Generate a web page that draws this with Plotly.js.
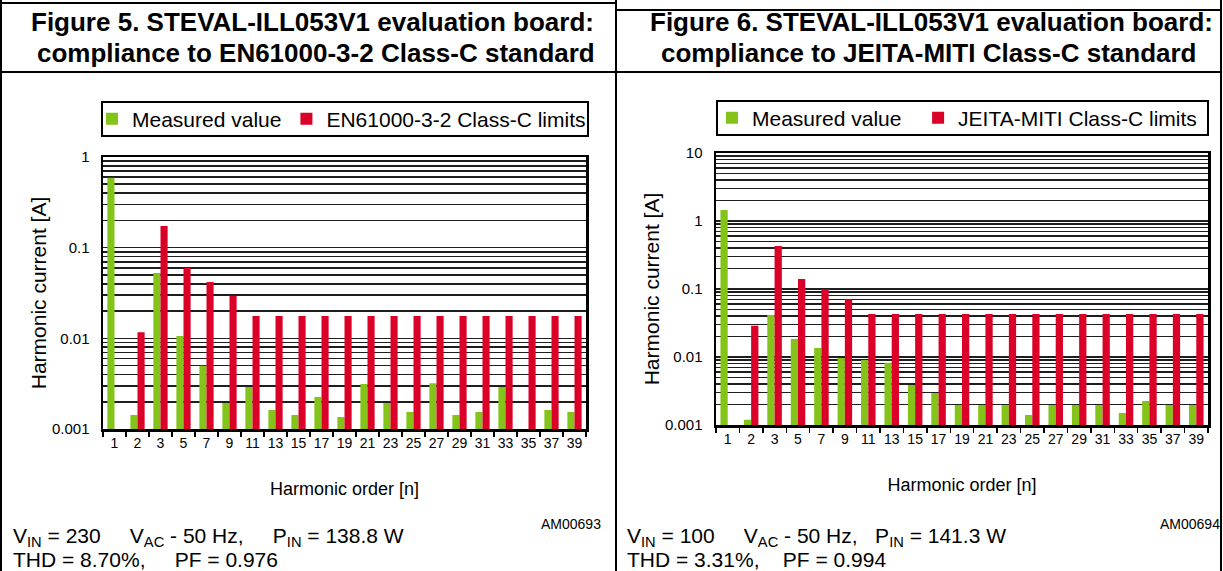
<!DOCTYPE html>
<html>
<head>
<meta charset="utf-8">
<script src="https://cdn.plot.ly/plotly-3.0.1.min.js"></script>
<style>
  html, body { margin: 0; padding: 0; background: #fff; }
  #chart { width: 1223px; height: 571px; }
</style>
</head>
<body>
<div id="chart"></div>
<script>
// ---------------- DATA ----------------
const harmonicOrders = ['1','2','3','5','7','9','11','13','15','17','19','21','23','25','27','29','31','33','35','37','39'];

// Figure 5 – EN61000-3-2 Class-C (V_IN = 230 V)
const enMeasured = [0.59, 0.00143, 0.0525, 0.0106, 0.0050, 0.00194, 0.0029, 0.00162, 0.00143, 0.00225, 0.00136, 0.00313, 0.00194, 0.00154, 0.0032, 0.00143, 0.00154, 0.0029, null, 0.00162, 0.00154];
const enLimits   = [null, 0.0117, 0.173, 0.060, 0.0418, 0.0295, 0.0176, 0.0176, 0.0176, 0.0176, 0.0176, 0.0176, 0.0176, 0.0176, 0.0176, 0.0176, 0.0176, 0.0176, 0.0176, 0.0176, 0.0176];

// Figure 6 – JEITA-MITI Class-C (V_IN = 100 V)
const jeMeasured = [1.45, 0.00119, 0.0415, 0.0184, 0.0136, 0.0097, 0.0090, 0.0082, 0.00387, 0.00295, 0.00197, 0.00197, 0.00197, 0.0014, 0.00197, 0.00197, 0.00197, 0.0015, 0.00225, 0.00197, 0.00197];
const jeLimits   = [null, 0.0287, 0.428, 0.140, 0.099, 0.0706, 0.0428, 0.0428, 0.0428, 0.0428, 0.0428, 0.0428, 0.0428, 0.0428, 0.0428, 0.0428, 0.0428, 0.0428, 0.0428, 0.0428, 0.0428];

const seriesNames = {
  measured: 'Measured value',
  enLimit: 'EN61000-3-2 Class-C limits',
  jeLimit: 'JEITA-MITI Class-C limits'
};
const yTickValsLeft    = [0.001, 0.01, 0.1, 1];
const yTickLabelsLeft  = ['0.001', '0.01', '0.1', '1'];
const yTickValsRight   = [0.001, 0.01, 0.1, 1, 10];
const yTickLabelsRight = ['0.001', '0.01', '0.1', '1', '10'];

// ---------------- STYLE ----------------
const W = 1223, H = 571;
const GREEN = '#84C41A', RED = '#DA0027';
const FONT = 'Arial, "Liberation Sans", sans-serif';
const px = x => x / W;
const py = y => 1 - y / H;

// minor gridlines at 2..9 of each decade (axis styling)
function minorGrid(majors) {
  const v = [];
  for (let i = 0; i < majors.length - 1; i++)
    for (let m = 2; m <= 9; m++) v.push(m * majors[i]);
  return v;
}

function xAxis(domain, anchor) {
  return {
    domain, anchor, type: 'category', automargin: false,
    showline: true, linecolor: '#000', linewidth: 2.5, mirror: true,
    ticks: 'outside', tickson: 'boundaries', ticklen: 5, tickwidth: 1.5, tickcolor: '#000',
    tickangle: 0,
    showgrid: false, fixedrange: true,
    tickfont: { family: FONT, size: 14, color: '#000' },
    title: { text: 'Harmonic order [n]', font: { family: FONT, size: 18, color: '#000' }, standoff: 32 }
  };
}
function yAxis(domain, anchor, range, vals, labels) {
  return {
    domain, anchor, type: 'log', range, automargin: false,
    tickmode: 'array', tickvals: vals, ticktext: labels,
    showline: true, linecolor: '#000', linewidth: 2.5, mirror: true,
    ticks: '', showgrid: true, gridcolor: '#1e1e1e', gridwidth: 1.6,
    minor: { tickmode: 'array', tickvals: minorGrid(vals), showgrid: true, gridcolor: '#1e1e1e', gridwidth: 1.6, ticks: '' },
    zeroline: false, fixedrange: true, ticklabelstandoff: 8,
    tickfont: { family: FONT, size: 15, color: '#000' },
    title: { text: 'Harmonic current [A]', font: { family: FONT, size: 21, color: '#000' }, standoff: 0 }
  };
}

const NB = '\u00a0';
const sp = n => NB.repeat(n);

const traces = [
  { type: 'bar', name: seriesNames.measured, x: harmonicOrders, y: enMeasured, xaxis: 'x', yaxis: 'y', marker: { color: GREEN }, legend: 'legend' },
  { type: 'bar', name: seriesNames.enLimit, x: harmonicOrders, y: enLimits, xaxis: 'x', yaxis: 'y', marker: { color: RED }, legend: 'legend' },
  { type: 'bar', name: seriesNames.measured + sp(2), x: harmonicOrders, y: jeMeasured, xaxis: 'x2', yaxis: 'y2', marker: { color: GREEN }, legend: 'legend2' },
  { type: 'bar', name: seriesNames.jeLimit, x: harmonicOrders, y: jeLimits, xaxis: 'x2', yaxis: 'y2', marker: { color: RED }, legend: 'legend2' }
];

const line = (x0, y0, x1, y1, w) => ({
  type: 'line', xref: 'paper', yref: 'paper', x0: px(x0), y0: py(y0), x1: px(x1), y1: py(y1),
  line: { color: '#000', width: w || 2 }, layer: 'above'
});
const rect = (x0, y0, x1, y1) => ({
  type: 'rect', xref: 'paper', yref: 'paper', x0: px(x0), y0: py(y0), x1: px(x1), y1: py(y1),
  line: { color: '#000', width: 2 }, fillcolor: 'rgba(0,0,0,0)'
});

const legendStyle = (x, y) => ({
  orientation: 'h', x: px(x), y: py(y), xanchor: 'left', yanchor: 'middle',
  bgcolor: 'rgba(0,0,0,0)', borderwidth: 0,
  font: { family: FONT, size: 21, color: '#000' },
  itemclick: false, itemdoubleclick: false, traceorder: 'normal'
});

const ann = (x, y, text, size, anchor, bold) => ({
  xref: 'paper', yref: 'paper', x: px(x), y: py(y), xanchor: anchor, yanchor: 'middle', showarrow: false,
  text: bold ? '<b>' + text + '</b>' : text, font: { family: FONT, size, color: '#000' }
});

const layout = {
  width: W, height: H,
  margin: { l: 0, r: 0, t: 0, b: 0, pad: 0 },
  paper_bgcolor: '#fff', plot_bgcolor: '#fff',
  font: { family: FONT, color: '#000' },
  barmode: 'group', bargap: 0.38, bargroupgap: 0,
  xaxis: xAxis([px(103), px(586)], 'y'),
  yaxis: yAxis([py(429), py(157)], 'x', [-3, 0], yTickValsLeft, yTickLabelsLeft),
  xaxis2: xAxis([px(716), px(1208)], 'y2'),
  yaxis2: yAxis([py(425), py(153)], 'x2', [-3, 1], yTickValsRight, yTickLabelsRight),
  legend: legendStyle(92, 119),
  legend2: legendStyle(712, 118),
  shapes: [
    line(1, 3, 616, 3), line(616, 10, 1221, 10),
    line(1, 0, 1, H), line(616, 0, 616, H), line(1221, 0, 1221, H),
    line(1, 72, 1221, 72),
    rect(102, 102, 588, 136), rect(717, 101, 1208, 135)
  ],
  annotations: [
    ann(312, 22, 'Figure 5. STEVAL-ILL053V1 evaluation board:', 26, 'center', true),
    ann(316, 53, 'compliance to EN61000-3-2 Class-C standard', 26, 'center', true),
    ann(931, 22, 'Figure 6. STEVAL-ILL053V1 evaluation board:', 26, 'center', true),
    ann(929, 53, 'compliance to JEITA-MITI Class-C standard', 26, 'center', true),
    ann(11, 537, 'V<sub>IN</sub> = 230' + sp(5) + 'V<sub>AC</sub> - 50 Hz,' + sp(5) + 'P<sub>IN</sub> = 138.8 W', 21, 'left'),
    ann(11, 559, 'THD = 8.70%,' + sp(5) + 'PF = 0.976', 21, 'left'),
    ann(603, 524, 'AM00693', 14, 'right'),
    ann(625, 537, 'V<sub>IN</sub> = 100' + sp(5) + 'V<sub>AC</sub> - 50 Hz,' + sp(3) + 'P<sub>IN</sub> = 141.3 W', 21, 'left'),
    ann(625, 559, 'THD = 3.31%,' + sp(4) + 'PF = 0.994', 21, 'left'),
    ann(1222, 524, 'AM00694', 14, 'right')
  ]
};

Plotly.newPlot('chart', traces, layout, { staticPlot: true, displayModeBar: false });
</script>
</body>
</html>
